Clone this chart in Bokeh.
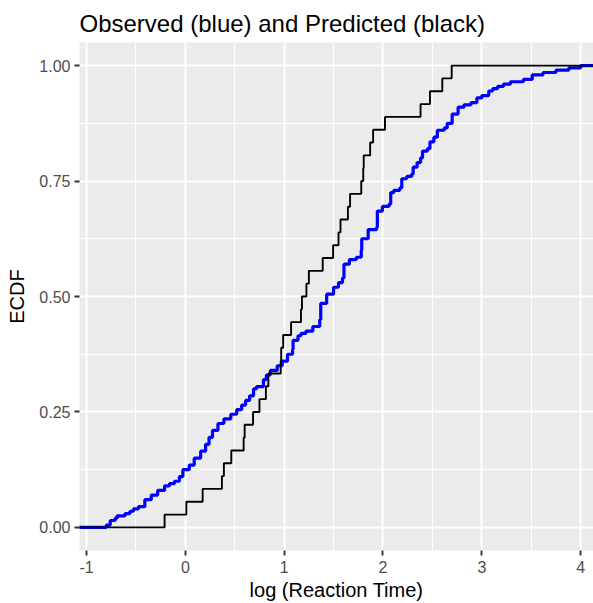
import numpy as np
from bokeh.plotting import figure
from bokeh.models import FixedTicker, Range1d
from bokeh.embed import file_html
from bokeh.resources import INLINE

# Observed log reaction times: distinct values and how many trials share each
obs_log_rt = [-0.80, -0.76, -0.71, -0.69, -0.61, -0.56, -0.525, -0.475,
              -0.41, -0.345, -0.28, -0.21, -0.16, -0.11, -0.06, -0.025,
              0.04, 0.09, 0.155, 0.205, 0.24, 0.275, 0.33, 0.39,
              0.46, 0.52, 0.57, 0.61, 0.65, 0.69, 0.72, 0.79,
              0.82, 0.86, 0.93, 0.98, 1.034, 1.085, 1.09, 1.14,
              1.17, 1.22, 1.29, 1.36, 1.37, 1.43, 1.50, 1.55,
              1.59, 1.605, 1.66, 1.73, 1.78, 1.785, 1.85, 1.935,
              1.943, 1.994, 2.06, 2.078, 2.11, 2.17, 2.19, 2.24,
              2.29, 2.305, 2.345, 2.38, 2.40, 2.45, 2.475, 2.515,
              2.55, 2.62, 2.65, 2.70, 2.76, 2.82, 2.89, 2.95,
              3.00, 3.07, 3.11, 3.16, 3.22, 3.29, 3.42, 3.51,
              3.62, 3.75, 3.88, 4.00]
obs_count = [1, 2, 1, 1, 1, 1, 1, 1,
             3, 2, 2, 2, 1, 1, 2, 3,
             2, 3, 3, 3, 3, 3, 3, 2,
             2, 2, 2, 2, 2, 3, 1, 3,
             2, 2, 2, 2, 3, 2, 4, 2,
             1, 1, 2, 3, 7, 4, 3, 2,
             2, 6, 2, 1, 3, 5, 4, 1,
             7, 2, 1, 5, 1, 1, 4, 1,
             1, 3, 2, 2, 3, 1, 3, 2,
             3, 1, 2, 4, 3, 1, 1, 2,
             1, 2, 1, 1, 1, 1, 1, 2,
             1, 1, 1, 1]

# Predicted log reaction times (36 simulated trials)
pred_log_rt = [-0.21, 0.01, 0.175, 0.37, 0.39, 0.465, 0.59, 0.60, 0.685,
               0.75, 0.815, 0.84, 0.965, 0.97, 0.99, 1.07, 1.17, 1.18,
               1.225, 1.25, 1.39, 1.495, 1.55, 1.57, 1.645, 1.667, 1.78,
               1.80, 1.805, 1.87, 1.90, 2.02, 2.38, 2.475, 2.60, 2.695]

x_ticks = [-1, 0, 1, 2, 3, 4]
x_tick_labels = ["-1", "0", "1", "2", "3", "4"]
x_minor = [-0.5, 0.5, 1.5, 2.5, 3.5]
y_ticks = [0.0, 0.25, 0.5, 0.75, 1.0]
y_tick_labels = ["0.00", "0.25", "0.50", "0.75", "1.00"]
y_minor = [0.125, 0.375, 0.625, 0.875]

X_LO, X_HI = -1.071, 4.13
Y_LO, Y_HI = -0.05, 1.05
FONT = "Liberation Sans"


def ecdf_steps(values, counts=None):
    """Return step vertices of an empirical CDF, padded to both sides."""
    v = np.asarray(values, dtype=float)
    if counts is not None:
        v = np.repeat(v, counts)
    u, c = np.unique(v, return_counts=True)
    f = np.cumsum(c) / len(v)
    xs = np.concatenate([[X_LO - 1.0], u, [X_HI + 1.0]])
    ys = np.concatenate([[0.0], f, [1.0]])
    return xs, ys


p = figure(width=593, height=603, output_backend="svg", toolbar_location=None,
           x_range=Range1d(X_LO, X_HI), y_range=Range1d(Y_LO, Y_HI),
           min_border_left=79, min_border_right=0,
           min_border_top=42, min_border_bottom=53,
           title="Observed (blue) and Predicted (black)")

p.background_fill_color = "#EBEBEB"
p.border_fill_color = "white"
p.outline_line_color = None

p.title.text_font = FONT
p.title.text_font_size = "24px"
p.title.text_font_style = "normal"
p.title.text_color = "black"
p.title.align = "left"
p.title.standoff = 12

p.xaxis.ticker = FixedTicker(ticks=x_ticks, minor_ticks=x_minor)
p.yaxis.ticker = FixedTicker(ticks=y_ticks, minor_ticks=y_minor)
p.xaxis.major_label_overrides = dict(zip(x_ticks, x_tick_labels))
p.yaxis.major_label_overrides = dict(zip(y_ticks, y_tick_labels))

p.xaxis.axis_label = "log (Reaction Time)"
p.yaxis.axis_label = "ECDF"

for ax in (p.xaxis, p.yaxis):
    ax.axis_line_color = None
    ax.major_tick_line_color = "#333333"
    ax.major_tick_line_width = 1.9
    ax.major_tick_out = 5
    ax.major_tick_in = 0
    ax.minor_tick_line_color = None
    ax.major_label_text_font = FONT
    ax.major_label_text_font_size = "16px"
    ax.major_label_text_color = "#4D4D4D"
    ax.axis_label_text_font = FONT
    ax.axis_label_text_font_size = "20px"
    ax.axis_label_text_font_style = "normal"
    ax.axis_label_text_color = "black"

p.xaxis.major_label_standoff = 5
p.xaxis.axis_label_standoff = 3
p.yaxis.major_label_standoff = 4
p.yaxis.axis_label_standoff = 8

for g in (p.xgrid, p.ygrid):
    g.grid_line_color = "white"
    g.grid_line_width = 1.9
    g.minor_grid_line_color = "white"
    g.minor_grid_line_width = 1.0

# Observed ECDF (blue) drawn first, predicted ECDF (black) on top
ox, oy = ecdf_steps(obs_log_rt, obs_count)
p.step(ox, oy, mode="after", line_color="blue", line_width=3.2)

px_, py_ = ecdf_steps(pred_log_rt)
p.step(px_, py_, mode="after", line_color="black", line_width=1.9)

open("out.html", "w").write(file_html(p, INLINE))
